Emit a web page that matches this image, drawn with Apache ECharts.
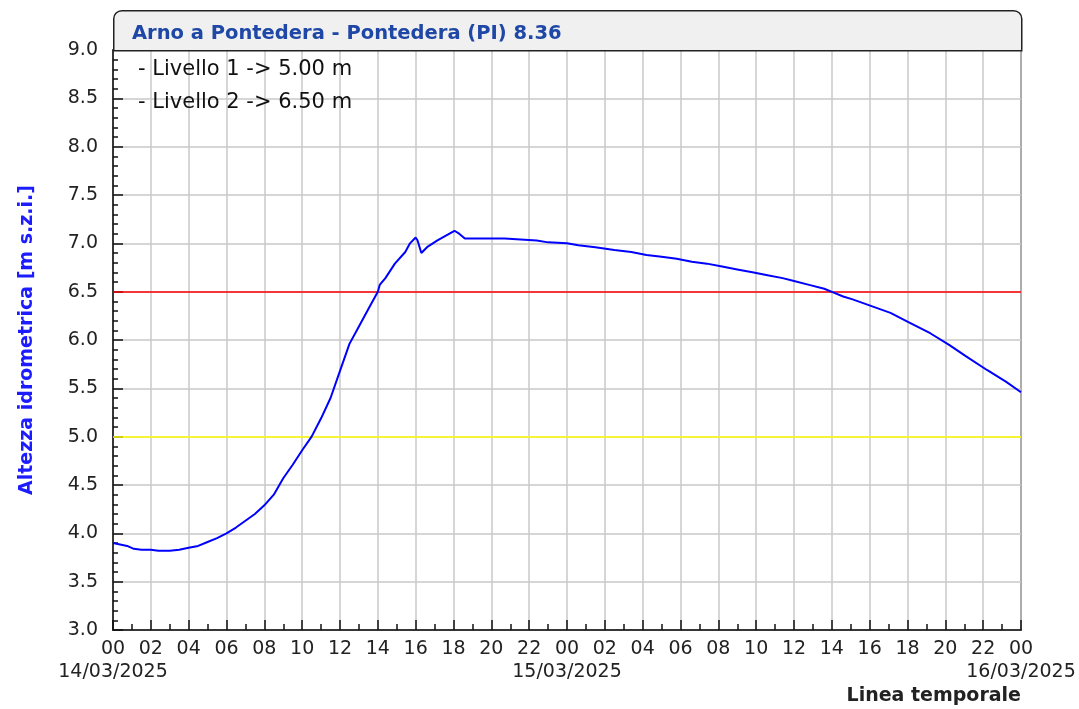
<!DOCTYPE html>
<html>
<head>
<meta charset="utf-8">
<script src="https://cdn.jsdelivr.net/npm/echarts@6/dist/echarts.min.js"></script>
<style>
html,body{margin:0;padding:0;background:#fff;}
#chart{width:1079px;height:709px;}
</style>
</head>
<body>
<div id="chart"></div>
<script>
// ---- data ----
const titleText = 'Arno a Pontedera - Pontedera (PI) 8.36';
const yAxisName = 'Altezza idrometrica [m s.z.i.]';
const xAxisName = 'Linea temporale';
const dateLabels = ['14/03/2025', '15/03/2025', '16/03/2025'];
const thresholdNames = ['- Livello 1 -> 5.00 m', '- Livello 2 -> 6.50 m'];
const thresholdValues = [5.0, 6.5];
const thresholdColors = ['#ffff00', '#ff0000'];
// hours since 14/03/2025 00:00
const hours = [0, 0.25, 0.75, 1.1, 1.5, 2.0, 2.4, 3.0, 3.5, 4.0, 4.5, 5.0, 5.5, 6.0, 6.5, 7.0, 7.5, 8.0, 8.5, 9.0,
  9.5, 10.0, 10.5, 11.0, 11.5, 12.0, 12.5, 13.0, 13.5, 14.0, 14.1, 14.4, 14.9, 15.45, 15.7, 16.0, 16.1, 16.3, 16.6,
  17.15, 17.6, 18.05, 18.3, 18.6, 20.7, 20.8, 22.4, 23.0, 24.0, 24.6, 25.5, 26.5, 27.4, 28.2, 29.0, 29.8, 30.6,
  31.4, 32.2, 33.0, 33.8, 34.6, 35.4, 36.0, 36.8, 37.6, 38.1, 38.6, 39.1, 40.1, 41.1, 42.1, 43.2, 44.2, 45.1,
  46.2, 47.2, 48.0];
const levels = [3.90, 3.89, 3.87, 3.84, 3.83, 3.83, 3.82, 3.82, 3.83, 3.85, 3.87, 3.91, 3.95, 4.00, 4.06, 4.13, 4.20, 4.29, 4.40, 4.57,
  4.71, 4.86, 5.00, 5.19, 5.40, 5.68, 5.96, 6.14, 6.32, 6.50, 6.57, 6.64, 6.79, 6.91, 7.00, 7.06, 7.03, 6.90, 6.96,
  7.03, 7.08, 7.13, 7.10, 7.05, 7.05, 7.03, 7.03, 7.01, 7.00, 6.98, 6.96, 6.93, 6.91, 6.88, 6.86, 6.84, 6.81,
  6.79, 6.76, 6.73, 6.70, 6.67, 6.64, 6.61, 6.57, 6.53, 6.49, 6.45, 6.42, 6.35, 6.28, 6.18, 6.07, 5.95, 5.83,
  5.69, 5.57, 5.46];

const FONT = 'DejaVu Sans';
const chart = echarts.init(document.getElementById('chart'), null, {renderer: 'canvas'});

const seriesData = hours.map((h, i) => [h, levels[i]]);

const option = {
  animation: false,
  backgroundColor: '#ffffff',
  grid: {left: 113, right: 58, top: 50, bottom: 79, show: true, borderColor: '#222', borderWidth: 1.5, backgroundColor: '#ffffff'},
  xAxis: [{
    type: 'value', min: 0, max: 48, interval: 2, position: 'bottom',
    axisLine: {show: true, onZero: false, lineStyle: {color: '#111', width: 1.5}},
    axisTick: {show: true, inside: true, length: 10, lineStyle: {color: '#111', width: 1.5}},
    minorTick: {show: true, splitNumber: 2, length: 6, lineStyle: {color: '#111', width: 1.5}},
    splitLine: {show: true, lineStyle: {color: '#c8c8c8', width: 1.5}},
    axisLabel: {
      margin: 10, color: '#222', fontFamily: FONT, fontSize: 19,
      showMinLabel: true, showMaxLabel: true, hideOverlap: false,
      formatter: function (v) { return String(v % 24).padStart(2, '0'); }
    }
  }, {
    type: 'value', min: 0, max: 48, interval: 24, position: 'bottom',
    axisLine: {show: false}, axisTick: {show: false}, splitLine: {show: false},
    axisLabel: {
      margin: 33, color: '#222', fontFamily: FONT, fontSize: 19,
      showMinLabel: true, showMaxLabel: true,
      formatter: function (v) { return dateLabels[v / 24]; }
    }
  }],
  yAxis: {
    type: 'value', min: 3, max: 9, interval: 0.5,
    name: yAxisName, nameLocation: 'middle', nameGap: 76, nameRotate: 90,
    nameTextStyle: {color: '#1c1cff', fontFamily: FONT, fontSize: 19, fontWeight: 'bold'},
    axisLine: {show: true, lineStyle: {color: '#111', width: 1.5}},
    axisTick: {show: true, inside: true, length: 10, lineStyle: {color: '#111', width: 1.5}},
    minorTick: {show: true, splitNumber: 5, length: 5, lineStyle: {color: '#111', width: 1.5}},
    splitLine: {show: true, lineStyle: {color: '#c8c8c8', width: 1.5}},
    axisLabel: {
      margin: 15, color: '#222', fontFamily: FONT, fontSize: 19,
      formatter: function (v) { return v.toFixed(1); }
    }
  },
  series: [{
    type: 'line',
    xAxisIndex: 0,
    data: seriesData,
    showSymbol: false,
    symbol: 'none',
    lineStyle: {color: '#0000ff', width: 2},
    z: 5,
    markLine: {
      silent: true, symbol: 'none', label: {show: false},
      data: thresholdValues.map((v, i) => ({yAxis: v, lineStyle: {color: thresholdColors[i], width: 1.5, type: 'solid'}}))
    }
  }],
  graphic: [
    {type: 'rect', left: 113, top: 10, z: 10,
      shape: {width: 908, height: 40, r: [8, 8, 0, 0]},
      style: {fill: '#f0f0f0', stroke: '#222', lineWidth: 1.5}},
    {type: 'text', left: 132, top: 24, z: 11,
      style: {text: titleText, fill: '#1f47a6', font: 'bold 19.5px "' + FONT + '"'}},
    {type: 'text', left: 138, top: 59, z: 11,
      style: {text: thresholdNames[0], fill: '#111', font: '21px "' + FONT + '"'}},
    {type: 'text', left: 138, top: 92, z: 11,
      style: {text: thresholdNames[1], fill: '#111', font: '21px "' + FONT + '"'}},
    {type: 'text', right: 58, top: 687, z: 11,
      style: {text: xAxisName, fill: '#222', font: 'bold 19px "' + FONT + '"'}}
  ]
};
chart.setOption(option);
</script>
</body>
</html>
